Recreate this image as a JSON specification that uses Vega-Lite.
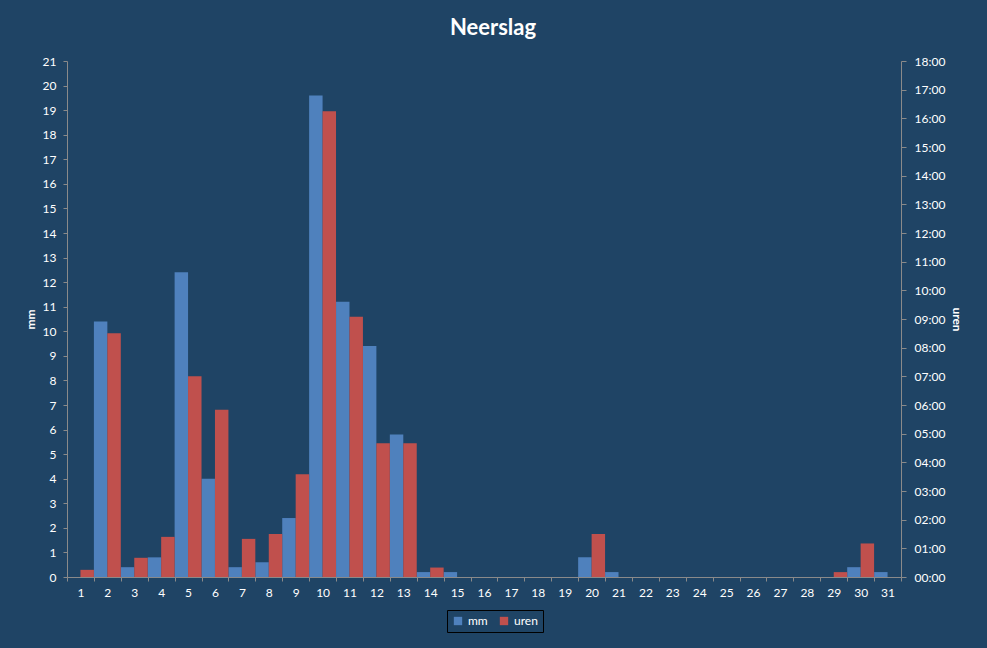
{
  "$schema": "https://vega.github.io/schema/vega-lite/v6.json",
  "width": 834,
  "height": 516,
  "autosize": {"type": "none"},
  "padding": {"left": 67, "top": 61, "right": 86, "bottom": 71},
  "background": "#1F4465",
  "title": {"text": "Neerslag", "fontSize": 22, "font": "Lato", "fontWeight": "bold", "color": "white", "offset": 15, "dx": 9, "anchor": "middle"},
  "config": {
    "view": {"stroke": null},
    "font": "Lato",
    "axis": {"grid": false, "domainColor": "#8A8A8A", "tickColor": "#8A8A8A", "labelColor": "white", "labelFontSize": 12, "labelFont": "Lato", "titleColor": "white", "titleFont": "Lato", "titleFontSize": 12, "titleFontWeight": "bold"}
  },
  "data": {"values": [
    {"day": 1, "series": "mm", "value": 0}, {"day": 1, "series": "uren", "value": 0.25},
    {"day": 2, "series": "mm", "value": 10.4}, {"day": 2, "series": "uren", "value": 8.5},
    {"day": 3, "series": "mm", "value": 0.4}, {"day": 3, "series": "uren", "value": 0.67},
    {"day": 4, "series": "mm", "value": 0.8}, {"day": 4, "series": "uren", "value": 1.4},
    {"day": 5, "series": "mm", "value": 12.4}, {"day": 5, "series": "uren", "value": 7.0},
    {"day": 6, "series": "mm", "value": 4.0}, {"day": 6, "series": "uren", "value": 5.83},
    {"day": 7, "series": "mm", "value": 0.4}, {"day": 7, "series": "uren", "value": 1.33},
    {"day": 8, "series": "mm", "value": 0.6}, {"day": 8, "series": "uren", "value": 1.5},
    {"day": 9, "series": "mm", "value": 2.4}, {"day": 9, "series": "uren", "value": 3.58},
    {"day": 10, "series": "mm", "value": 19.6}, {"day": 10, "series": "uren", "value": 16.25},
    {"day": 11, "series": "mm", "value": 11.2}, {"day": 11, "series": "uren", "value": 9.08},
    {"day": 12, "series": "mm", "value": 9.4}, {"day": 12, "series": "uren", "value": 4.67},
    {"day": 13, "series": "mm", "value": 5.8}, {"day": 13, "series": "uren", "value": 4.67},
    {"day": 14, "series": "mm", "value": 0.2}, {"day": 14, "series": "uren", "value": 0.33},
    {"day": 15, "series": "mm", "value": 0.2}, {"day": 15, "series": "uren", "value": 0},
    {"day": 16, "series": "mm", "value": 0}, {"day": 16, "series": "uren", "value": 0},
    {"day": 17, "series": "mm", "value": 0}, {"day": 17, "series": "uren", "value": 0},
    {"day": 18, "series": "mm", "value": 0}, {"day": 18, "series": "uren", "value": 0},
    {"day": 19, "series": "mm", "value": 0}, {"day": 19, "series": "uren", "value": 0},
    {"day": 20, "series": "mm", "value": 0.8}, {"day": 20, "series": "uren", "value": 1.5},
    {"day": 21, "series": "mm", "value": 0.2}, {"day": 21, "series": "uren", "value": 0},
    {"day": 22, "series": "mm", "value": 0}, {"day": 22, "series": "uren", "value": 0},
    {"day": 23, "series": "mm", "value": 0}, {"day": 23, "series": "uren", "value": 0},
    {"day": 24, "series": "mm", "value": 0}, {"day": 24, "series": "uren", "value": 0},
    {"day": 25, "series": "mm", "value": 0}, {"day": 25, "series": "uren", "value": 0},
    {"day": 26, "series": "mm", "value": 0}, {"day": 26, "series": "uren", "value": 0},
    {"day": 27, "series": "mm", "value": 0}, {"day": 27, "series": "uren", "value": 0},
    {"day": 28, "series": "mm", "value": 0}, {"day": 28, "series": "uren", "value": 0},
    {"day": 29, "series": "mm", "value": 0}, {"day": 29, "series": "uren", "value": 0.17},
    {"day": 30, "series": "mm", "value": 0.4}, {"day": 30, "series": "uren", "value": 1.17},
    {"day": 31, "series": "mm", "value": 0.2}, {"day": 31, "series": "uren", "value": 0}
  ]},
  "encoding": {
    "x": {"field": "day", "type": "ordinal", "scale": {"paddingInner": 0, "paddingOuter": 0},
      "axis": {"title": null, "labelAngle": 0, "tickBand": "extent", "tickSize": 4, "labelPadding": 6}},
    "xOffset": {"field": "series", "type": "nominal", "scale": {"domain": ["mm", "uren"], "paddingInner": 0, "paddingOuter": 0}},
    "color": {"field": "series", "type": "nominal", "scale": {"domain": ["mm", "uren"], "range": ["#4F81BD", "#C0504D"]},
      "legend": {"title": null, "orient": "none", "legendX": 380, "legendY": 549, "direction": "horizontal", "strokeColor": "black", "padding": 5, "symbolType": "square", "symbolSize": 70, "symbolStrokeWidth": 0, "labelColor": "white", "labelFontSize": 12, "labelFont": "Lato", "columnPadding": 10}}
  },
  "layer": [
    {
      "transform": [{"filter": "datum.series === 'mm'"}],
      "mark": {"type": "bar"},
      "encoding": {
        "y": {"field": "value", "type": "quantitative", "scale": {"domain": [0, 21], "nice": false},
          "axis": {"title": "mm", "orient": "left", "values": [0,1,2,3,4,5,6,7,8,9,10,11,12,13,14,15,16,17,18,19,20,21], "tickSize": 4, "labelPadding": 7, "titlePadding": 5}}
      }
    },
    {
      "transform": [{"filter": "datum.series === 'uren'"}],
      "mark": {"type": "bar"},
      "encoding": {
        "y": {"field": "value", "type": "quantitative", "scale": {"domain": [0, 18], "nice": false},
          "axis": {"title": "uren", "orient": "right", "values": [0,1,2,3,4,5,6,7,8,9,10,11,12,13,14,15,16,17,18], "labelExpr": "(datum.value < 10 ? '0' : '') + datum.value + ':00'", "tickSize": 5, "labelPadding": 8, "titlePadding": 5}}
      }
    }
  ],
  "resolve": {"scale": {"y": "independent"}, "axis": {"y": "independent"}}
}
